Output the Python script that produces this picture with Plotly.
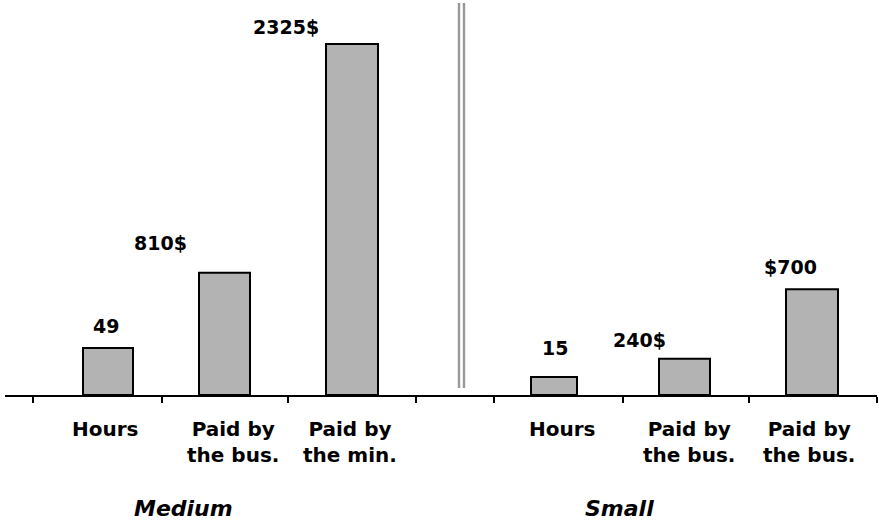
import plotly.graph_objects as go

# Two groups of bars: hours worked and money paid, for medium and small firms
medium_labels = ["Hours", "Paid by<br>the bus.", "Paid by<br>the min."]
medium_values = [49, 810, 2325]
medium_formats = ["{}", "{}$", "{}$"]

small_labels = ["Hours", "Paid by<br>the bus.", "Paid by<br>the bus."]
small_values = [15, 240, 700]
small_formats = ["{}", "{}$", "${}"]

group_names = ["Medium", "Small"]

# ---- layout helpers (pixel geometry of the drawing area) ----
W, H = 879, 522
BASE = 395          # pixel row of the baseline
X0, X1 = 5, 877     # horizontal extent of the baseline

medium_x = [108, 224.5, 352]
medium_w = [50, 51, 52]
small_x = [554, 684.5, 812]
small_w = [46, 51, 52]
boundary_ticks = [33, 162, 288, 416, 494, 623, 749, 877]

# label offsets (pixels) of the value tags relative to the bar tops
medium_dx = [-2, -64, -66]
medium_dy = [22, 30, 17]
small_dx = [1, -45, -22]
small_dy = [29, 19, 22]

medium_label_x = [105, 233, 350]
small_label_x = [562, 689, 809]
group_x = [183, 619]

FILL = "#b3b3b3"
FONT = "DejaVu Sans"


def py(px):
    return (BASE - px) / BASE


fig = go.Figure()

bar_style = dict(marker=dict(color=FILL, line=dict(color="black", width=2)),
                 showlegend=False, hoverinfo="skip")

# money bars share one scale
fig.add_trace(go.Bar(x=medium_x[1:] + small_x[1:],
                     y=medium_values[1:] + small_values[1:],
                     width=medium_w[1:] + small_w[1:],
                     yaxis="y", **bar_style))
# hours bars each have their own scale
fig.add_trace(go.Bar(x=[medium_x[0]], y=[medium_values[0]], width=[medium_w[0]],
                     yaxis="y2", **bar_style))
fig.add_trace(go.Bar(x=[small_x[0]], y=[small_values[0]], width=[small_w[0]],
                     yaxis="y3", **bar_style))

annotations = []
value_font = dict(family=FONT, size=19, color="black", weight="bold")
label_font = dict(family=FONT, size=20, color="black", weight="bold")
group_font = dict(family=FONT, size=22, color="black", weight="bold", style="italic")


def tag(x, v, fmt, dx, dy, yref):
    annotations.append(dict(x=x, y=v, xref="x", yref=yref, text=fmt.format(v),
                            showarrow=False, xanchor="center", yanchor="middle",
                            xshift=dx, yshift=dy, font=value_font))


for i in range(3):
    tag(medium_x[i], medium_values[i], medium_formats[i], medium_dx[i], medium_dy[i],
        "y2" if i == 0 else "y")
    tag(small_x[i], small_values[i], small_formats[i], small_dx[i], small_dy[i],
        "y3" if i == 0 else "y")

for xs, labels in ((medium_label_x, medium_labels), (small_label_x, small_labels)):
    for x, t in zip(xs, labels):
        annotations.append(dict(x=x, y=py(415), xref="x", yref="paper", text=t,
                                showarrow=False, xanchor="center", yanchor="top",
                                align="center", font=label_font))

for x, t in zip(group_x, group_names):
    annotations.append(dict(x=x, y=py(508), xref="x", yref="paper", text=t,
                            showarrow=False, xanchor="center", yanchor="middle",
                            font=group_font))

# double separator between the two groups
shapes = [dict(type="line", xref="x", yref="paper", x0=xv, x1=xv,
               y0=py(388), y1=py(3), line=dict(color="#999999", width=2.4))
          for xv in (459, 464)]

fig.update_layout(
    width=W, height=H,
    margin=dict(l=X0, r=W - X1, t=0, b=H - BASE),
    paper_bgcolor="white", plot_bgcolor="white",
    barmode="overlay",
    xaxis=dict(range=[X0, X1], tickvals=boundary_ticks, showticklabels=False,
               ticks="outside", ticklen=6, tickwidth=1.5, tickcolor="black",
               showline=True, linecolor="black", linewidth=2,
               showgrid=False, zeroline=False, fixedrange=True),
    yaxis=dict(range=[0, 2616], visible=False, fixedrange=True),
    yaxis2=dict(range=[0, 411.8], overlaying="y", visible=False, fixedrange=True),
    yaxis3=dict(range=[0, 329], overlaying="y", visible=False, fixedrange=True),
    annotations=annotations,
    shapes=shapes,
)

fig.write_html("out.html")
